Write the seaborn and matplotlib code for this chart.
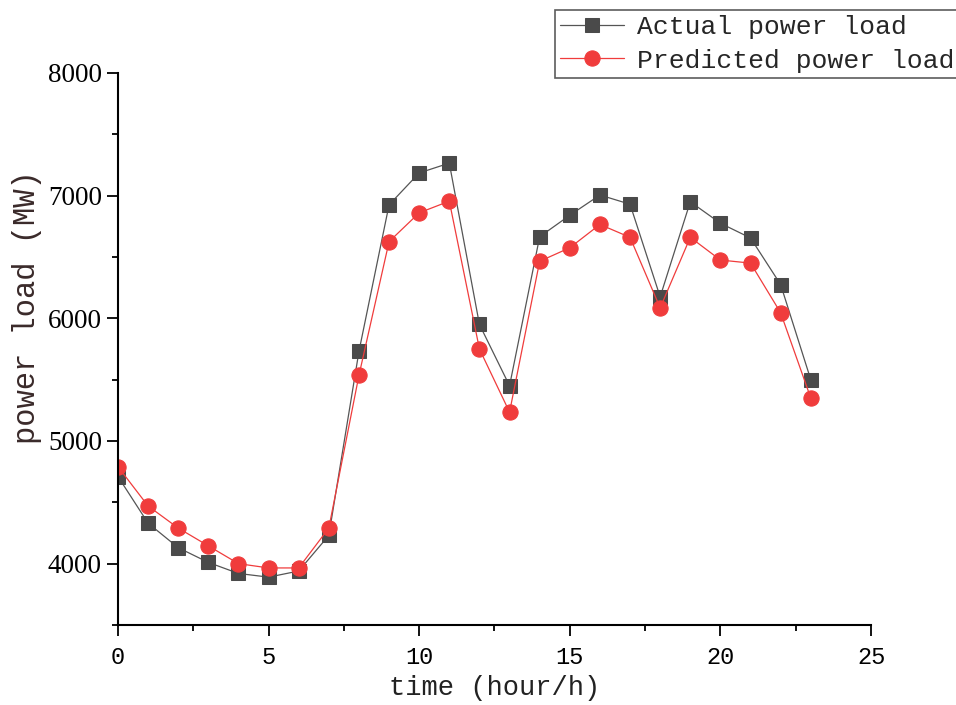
import seaborn as sns
import matplotlib.pyplot as plt
from matplotlib.ticker import MultipleLocator
import pandas as pd

hours = list(range(24))
actual = [4710, 4330, 4130, 4010, 3920, 3890, 3940, 4230, 5730, 6925, 7185, 7265,
          5950, 5450, 6665, 6840, 7005, 6930, 6175, 6950, 6775, 6655, 6275, 5500]
predicted = [4790, 4470, 4290, 4145, 4000, 3965, 3965, 4290, 5535, 6625, 6860, 6955,
             5750, 5235, 6465, 6575, 6765, 6660, 6085, 6660, 6475, 6450, 6045, 5350]

df = pd.DataFrame({'hour': hours, 'actual': actual, 'predicted': predicted})

sns.set_style('ticks')
plt.rcParams['font.family'] = ['Liberation Mono', 'DejaVu Sans']

fig = plt.figure(figsize=(9.56, 7.05), dpi=100)
ax = fig.add_axes([0.1234, 0.1135, 0.7877, 0.783])

sns.lineplot(x='hour', y='actual', data=df, ax=ax, color='#555555', lw=0.9,
             marker='s', markersize=10, markerfacecolor='#4a4a4a', markeredgecolor='#4a4a4a',
             label='Actual power load')
sns.lineplot(x='hour', y='predicted', data=df, ax=ax, color='#f03c3c', lw=0.9,
             marker='o', markersize=11, markerfacecolor='#f03c3c', markeredgecolor='#f03c3c',
             label='Predicted power load')

ax.set_xlim(0, 25)
ax.set_ylim(3500, 8000)
ax.set_xticks([0, 5, 10, 15, 20, 25])
ax.set_yticks([4000, 5000, 6000, 7000, 8000])
ax.xaxis.set_minor_locator(MultipleLocator(2.5))
ax.yaxis.set_minor_locator(MultipleLocator(500))
sns.despine(ax=ax)
for s in ['left', 'bottom']:
    ax.spines[s].set_linewidth(1.5)
    ax.spines[s].set_color('black')
ax.tick_params(which='major', length=8, width=1.3, colors='black', labelsize=17)
ax.tick_params(axis='x', which='major', pad=7)
ax.tick_params(which='minor', length=4, width=1.3, colors='black')
for t in ax.get_yticklabels():
    t.set_fontfamily('Liberation Serif')
    t.set_fontsize(19.5)

ax.set_xlabel('time (hour/h)', fontsize=19.5, color='#222222')
ax.xaxis.set_label_coords(0.5, -0.09)
ax.set_ylabel('power load (MW)', fontsize=22, color='#3a2a2a')
ax.yaxis.set_label_coords(-0.101, 0.575)

leg = ax.legend(loc='upper left', bbox_to_anchor=(555 / 956, 1 - 10 / 705),
                bbox_transform=fig.transFigure, fontsize=19, frameon=True,
                fancybox=False, edgecolor='#333333', borderpad=0.2, labelspacing=0.35,
                handlelength=2.4, handletextpad=0.5, borderaxespad=0)
leg.get_frame().set_linewidth(1.2)

fig.savefig('out.png', dpi=100)
